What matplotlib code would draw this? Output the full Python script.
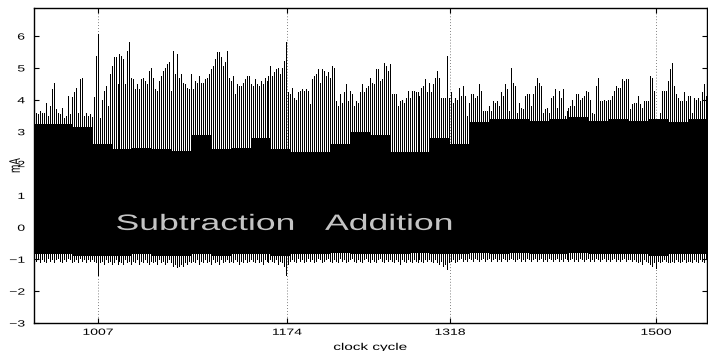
import numpy as np
import matplotlib
matplotlib.use("Agg")
import matplotlib.pyplot as plt
from matplotlib.patheffects import AbstractPathEffect
from matplotlib.transforms import Affine2D

# top of every current spike (mA), left to right
peak_hi = [
    4.6, 3.6, 3.55, 3.65, 3.58, 3.6, 3.9, 3.5, 3.8, 4.33,
    4.54, 3.7, 3.6, 3.55, 3.75, 3.44, 3.5, 4.12, 3.55, 4.1,
    4.23, 4.38, 3.6, 4.65, 4.7, 3.5, 3.6, 3.5, 3.55, 3.45,
    4.1, 5.38, 6.06, 3.44, 4.0, 4.28, 4.44, 3.8, 4.8, 5.07,
    5.33, 5.33, 4.49, 5.44, 5.38, 5.28, 4.49, 5.54, 5.8, 4.7,
    4.65, 4.33, 4.49, 4.33, 4.65, 4.7, 4.6, 4.49, 4.91,
    5.01, 4.7, 4.33, 4.28, 4.6, 4.75, 4.91, 5.01, 5.12, 5.2,
    4.28, 5.54, 4.8, 5.44, 4.7, 4.8, 4.54, 4.49, 4.38, 4.33,
    4.8, 4.33, 4.6, 4.54, 4.75, 4.54, 4.54, 4.65, 4.7, 4.8,
    4.96, 5.07, 5.28, 5.49, 5.49, 5.33, 5.07, 5.2, 5.54, 4.7,
    4.6, 4.75, 4.17, 4.49, 4.44, 4.44, 4.54, 4.65, 4.75, 4.75,
    4.49, 4.44, 4.65, 4.49, 4.44, 4.6, 4.49, 4.7,
    4.6, 4.75, 5.07, 4.75, 4.86, 4.96, 5.01, 4.8, 5.0, 5.23,
    5.8, 4.23, 4.17, 4.38, 4.07, 4.01, 4.23, 4.28, 4.33, 4.28,
    4.33, 4.28, 3.86, 4.65, 4.75, 4.8, 4.96, 4.54, 4.96, 4.91,
    4.75, 4.86, 4.7, 5.07, 5.01, 3.96, 3.81, 4.17, 3.91, 4.23,
    4.49, 3.96, 4.28, 4.17, 3.81, 3.96, 3.91, 4.23, 4.49, 4.23,
    4.38, 4.44, 4.7, 4.54, 4.49, 4.96, 4.96, 4.6,
    4.65, 5.17, 5.07, 4.91, 5.12, 4.17, 4.17, 4.17, 3.81, 3.96,
    4.01, 3.91, 4.07, 4.28, 4.07, 4.28, 4.28, 4.23, 4.23, 4.12,
    4.38, 4.44, 4.65, 4.23, 4.54, 4.23, 4.49, 4.7, 4.91, 4.7,
    4.07, 4.07, 4.07, 5.38, 4.07, 4.23, 3.91, 4.07, 4.01, 4.38,
    4.12, 4.44, 4.12, 3.5, 3.91, 4.17, 4.17, 4.07, 4.12, 4.49,
    4.28, 3.65, 3.65, 3.65, 3.81, 3.65, 3.96, 3.9,
    3.96, 3.81, 4.23, 4.12, 4.49, 4.33, 3.65, 5.01, 4.54, 4.44,
    3.6, 3.91, 3.75, 3.7, 4.12, 4.17, 4.17, 3.81, 4.17, 4.44,
    4.7, 4.54, 4.44, 3.6, 3.7, 3.75, 3.6, 4.07, 4.12, 4.33,
    3.75, 4.28, 4.07, 4.33, 3.5, 3.65, 3.75, 3.81, 4.01, 3.81,
    4.17, 4.17, 4.01, 4.07, 4.12, 4.28, 4.23, 4.01, 3.6, 3.55,
    4.44, 4.7, 3.96, 3.96, 4.01, 3.96, 4.01, 4.0,
    4.12, 4.28, 4.44, 4.38, 4.38, 4.65, 4.6, 4.65, 4.65, 3.7,
    3.86, 3.91, 3.91, 4.12, 3.86, 3.75, 3.96, 3.96, 3.96, 4.75,
    4.7, 4.28, 2.75, 3.23, 3.6, 4.28, 4.28, 4.28, 4.6, 4.96,
    5.17, 4.44, 4.17, 4.07, 3.96, 3.96, 4.23, 3.96, 4.12, 4.12,
    3.6, 4.07, 4.01, 4.07, 3.96, 4.23, 4.49, 4.12, 4.12,
]

# bottom of every current spike (mA)
peak_lo = [
    -1.0, -1.05, -0.95, -1.1, -1.0, -1.05, -1.1, -0.95, -1.05, -1.0,
    -1.1, -1.0, -0.95, -1.05, -1.1, -1.0, -1.05, -0.95, -1.0, -1.1,
    -1.05, -1.0, -1.1, -0.95, -1.05, -1.0, -1.1, -1.0, -1.05, -1.0,
    -1.05, -1.1, -1.5, -1.1, -1.05, -1.15, -1.0, -1.1, -1.05, -1.15,
    -1.1, -1.0, -1.15, -1.05, -1.1, -1.15, -1.0, -1.1, -1.05, -1.15,
    -1.05, -1.1, -1.0, -1.15, -1.05, -1.1, -1.0, -1.1, -1.15, -1.05,
    -1.1, -1.05, -1.15, -1.0, -1.1, -1.05, -1.15, -1.1, -1.0, -1.1,
    -1.2, -1.15, -1.25, -1.2, -1.15, -1.2, -1.1, -1.15, -1.05, -1.1,
    -1.05, -1.1, -1.0, -1.15, -1.05, -1.1, -1.0, -1.1, -1.05, -1.15,
    -1.0, -1.1, -1.05, -1.15, -1.0, -1.1, -1.05, -1.0, -1.1, -1.05,
    -1.1, -1.0, -1.05, -1.15, -1.05, -1.1, -1.0, -1.1, -1.05, -1.0,
    -1.05, -1.1, -1.0, -1.1, -1.05, -1.15, -1.0, -1.05, -1.1, -1.0,
    -1.05, -1.1, -1.0, -1.15, -1.05, -1.1, -1.2, -1.5, -1.15, -1.05,
    -1.0, -1.05, -1.1, -0.95, -1.05, -1.0, -1.1, -1.05, -0.95, -1.05,
    -1.0, -1.1, -1.05, -0.95, -1.0, -1.1, -1.05, -1.0, -0.95, -1.05,
    -1.1, -1.0, -1.05, -1.1, -0.95, -1.05, -1.0, -1.1, -1.05, -1.0,
    -0.95, -1.05, -1.1, -1.0, -1.05, -1.1, -1.0, -0.95, -1.05, -1.1,
    -1.0, -1.05, -1.1, -1.0, -0.95, -1.05, -1.1, -1.0, -1.05, -1.0,
    -1.05, -1.1, -1.0, -1.05, -1.15, -1.0, -1.05, -1.1, -1.0, -1.05,
    -1.1, -1.0, -1.05, -1.1, -1.0, -1.05, -1.1, -1.0, -1.05, -1.0,
    -1.05, -1.1, -1.0, -1.1, -1.15, -1.05, -1.2, -1.15, -1.3, -1.1,
    -1.05, -1.0, -1.1, -1.05, -1.0, -0.95, -1.05, -1.0, -1.05, -0.95,
    -1.0, -1.05, -0.95, -1.0, -1.05, -1.0, -0.95, -1.05, -1.0, -0.95,
    -1.05, -1.0, -0.95, -1.05, -1.0, -1.05, -0.95, -1.0, -1.05, -1.0,
    -0.95, -1.0, -1.05, -1.0, -0.95, -1.05, -1.0, -1.05, -0.95, -1.0,
    -1.05, -1.0, -0.95, -1.05, -1.0, -0.95, -1.05, -1.0, -1.05, -0.95,
    -1.0, -1.05, -1.0, -0.95, -1.05, -1.0, -1.05, -0.95, -1.0, -1.05,
    -1.0, -0.95, -1.05, -1.0, -1.05, -0.95, -1.0, -1.05, -1.0, -0.95,
    -1.05, -1.0, -1.05, -0.95, -1.0, -1.05, -1.0, -0.95, -1.05, -1.0,
    -1.05, -1.0, -0.95, -1.05, -1.0, -1.05, -1.0, -0.95, -1.05, -1.0,
    -1.0, -1.05, -1.0, -1.05, -1.1, -1.05, -1.15, -1.0, -1.05, -1.1,
    -1.15, -1.2, -1.1, -1.28, -1.05, -1.1, -1.05, -1.0, -1.05, -1.1,
    -1.1, -1.05, -1.1, -1.0, -1.05, -1.1, -1.05, -1.0, -1.1, -1.05,
    -1.05, -1.1, -1.0, -1.05, -1.1, -1.0, -1.05, -1.1, -1.0, -1.05,
]

# solid band between the spikes, one value per group of 10 spikes
band_top = [
    3.25, 3.25, 3.15, 2.6, 2.45, 2.5, 2.45, 2.4, 2.9, 2.45,
    2.5, 2.8, 2.45, 2.35, 2.35, 2.6, 3.0, 2.9, 2.35, 2.35,
    2.8, 2.6, 3.3, 3.4, 3.4, 3.35, 3.4, 3.45, 3.35, 3.4,
    3.35, 3.4, 3.3, 3.4,
]
band_bottom = [
    -0.85, -0.85, -0.9, -0.9, -0.9, -0.85, -0.9, -0.9, -0.85, -0.9,
    -0.85, -0.85, -0.9, -0.85, -0.85, -0.8, -0.85, -0.85, -0.85, -0.8,
    -0.85, -0.85, -0.8, -0.85, -0.8, -0.85, -0.85, -0.8, -0.85, -0.85,
    -0.85, -0.9, -0.85, -0.85,
]

first_cycle = 950.5
last_cycle = 1545.5
xticks = [1007, 1174, 1318, 1500]
yticks = [-3, -2, -1, 0, 1, 2, 3, 4, 5, 6]

op_names = ["Subtraction", "Addition"]
op_cycles = [1102, 1264]
op_level = -0.08

# the reference was a 4:3 figure squeezed into a wide image, so its text is wide
STRETCH = 1.55


class Stretch(AbstractPathEffect):
    def __init__(self, sx, anchor=0.5):
        super().__init__()
        self.sx = sx
        self.anchor = anchor

    def draw_path(self, renderer, gc, tpath, affine, rgbFace=None):
        bb = tpath.get_extents(affine)
        x0 = bb.x0 + self.anchor * bb.width
        aff = affine + Affine2D().translate(-x0, 0).scale(self.sx, 1).translate(x0, 0)
        renderer.draw_path(gc, tpath, aff, rgbFace)


def main():
    plt.rcParams["font.family"] = ["Liberation Sans", "DejaVu Sans"]

    fig = plt.figure(figsize=(7.08, 3.51), dpi=100)
    ax = fig.add_axes([33.5 / 708, 28 / 351, 673.5 / 708, 315 / 351])

    n = len(peak_hi)
    x = np.linspace(first_cycle, last_cycle, n)
    dx = x[1] - x[0]

    edges = x[0] - dx / 2 + dx * 10 * np.arange(len(band_top) + 1)
    top = np.append(band_top, band_top[-1])
    bot = np.append(band_bottom, band_bottom[-1])
    ax.fill_between(edges, bot, top, step="post", color="k", linewidth=0, zorder=2)
    ax.vlines(x, peak_lo, peak_hi, colors="k", linewidth=0.72, zorder=2,
              antialiased=False)

    for name, cyc in zip(op_names, op_cycles):
        ax.text(cyc, op_level, name, color="#c4c4c4", fontsize=16,
                ha="center", va="baseline", zorder=3,
                path_effects=[Stretch(1.6)])

    ax.set_xlim(950, 1545)
    ax.set_ylim(-3, 6.88)
    ax.set_xticks(xticks)
    ax.set_yticks(yticks)
    ax.tick_params(direction="in", length=3.6, width=0.8, labelsize=6.5,
                   top=True, right=True)
    ax.tick_params(axis="x", pad=3.5)
    ax.tick_params(axis="y", pad=6.2)
    ax.xaxis.grid(True, color="0.35", linestyle=(0, (1, 2.5)), linewidth=0.6)
    ax.set_axisbelow(True)
    for sp in ax.spines.values():
        sp.set_linewidth(1.0)

    ax.set_xlabel("clock cycle", fontsize=7.1, va="center",
                  path_effects=[Stretch(STRETCH)])
    ax.xaxis.set_label_coords(0.5, -0.076)
    ax.set_ylabel("mA", fontsize=7.1, va="center",
                  path_effects=[Stretch(STRETCH)])
    ax.yaxis.set_label_coords(-0.0275, 0.5)

    for lab in ax.get_xticklabels():
        lab.set_path_effects([Stretch(STRETCH)])
    for lab in ax.get_yticklabels():
        lab.set_path_effects([Stretch(STRETCH, anchor=1.0)])

    fig.savefig("out.png", dpi=100)


if __name__ == "__main__":
    main()
